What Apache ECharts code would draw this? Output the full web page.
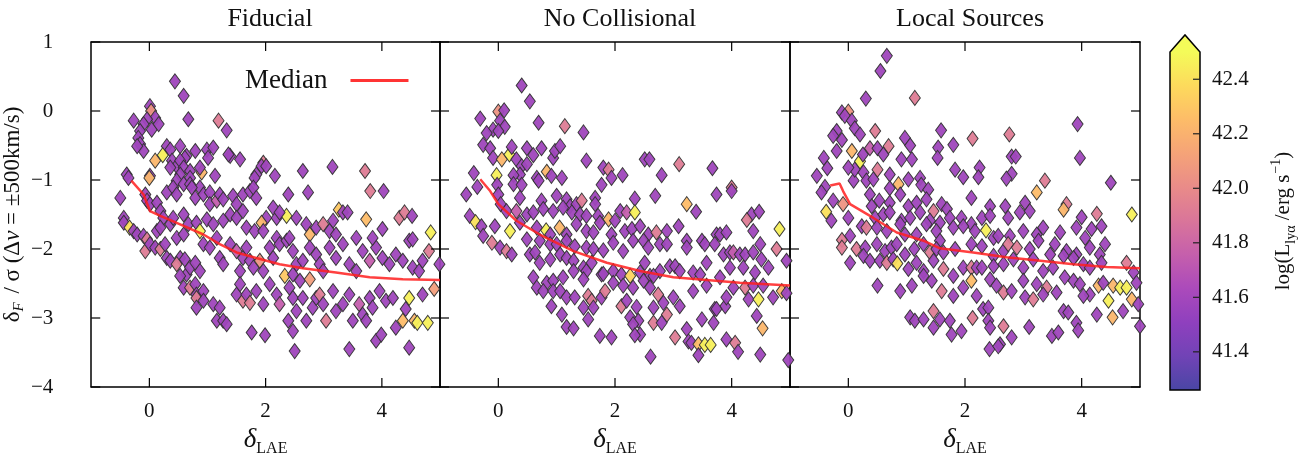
<!DOCTYPE html>
<html>
<head>
<meta charset="utf-8">
<script src="https://cdn.jsdelivr.net/npm/echarts@6/dist/echarts.min.js"></script>
<style>
  html, body { margin: 0; padding: 0; background: #fff; }
  #chart { width: 1303px; height: 462px; }
</style>
</head>
<body>
<div id="chart"></div>
<script>
// [delta_LAE, delta_F/sigma, log L_lya]
const fiducial = [
  [0.44,0.43,41.58],[0.59,0.22,41.58],[0.01,0.07,41.58],[0.03,0.0,42.05],[0.10,-0.10,41.58],[-0.04,-0.12,41.58],
  [-0.10,-0.19,41.58],[0.04,-0.27,41.58],[0.16,-0.19,41.58],[-0.27,-0.14,41.58],[0.67,-0.12,41.58],[1.19,-0.14,41.92],
  [1.33,-0.28,41.58],[-0.16,-0.29,41.58],
  [-0.19,-0.39,41.58],[-0.16,-0.48,41.58],[-0.10,-0.58,41.58],[-0.21,-0.51,41.58],[0.30,-0.51,41.58],[0.36,-0.56,41.58],
  [0.53,-0.51,41.58],[0.64,-0.65,41.58],[0.79,-0.58,41.58],[0.61,-0.68,41.58],[0.99,-0.56,41.58],[1.10,-0.53,41.58],
  [1.01,-0.68,41.58],[0.23,-0.64,42.46],[0.10,-0.72,42.22],[0.39,-0.72,41.58],[0.47,-0.80,41.58],[0.53,-0.72,41.58],
  [0.59,-0.82,41.58],[0.70,-0.87,41.58],[0.36,-0.82,41.58],[0.90,-0.89,42.22],[0.87,-0.82,41.58],[1.13,-0.94,41.58],
  [0.70,-0.97,41.58],[0.53,-0.92,41.58],[0.47,-1.01,41.58],[1.39,-0.65,41.58],[1.36,-0.63,41.58],[1.56,-0.70,41.58],
  [1.96,-0.75,41.92],[1.93,-0.80,41.58],[2.01,-0.80,41.58],[1.84,-0.92,41.58],[1.81,-0.97,41.58],[2.16,-0.94,41.58],
  [2.64,-0.87,41.58],[3.15,-0.81,41.58],[3.71,-0.87,41.92],[0.01,-0.94,41.58],[0.0,-0.97,42.22],[-0.39,-0.92,41.58],
  [-0.36,-0.97,41.58],[3.80,-1.16,41.92],[4.03,-1.16,41.58],[2.73,-1.18,41.58],[2.39,-1.21,41.58],[0.59,-1.06,41.58],
  [0.70,-1.06,41.58],[0.87,-1.11,41.58],
  [-0.50,-1.26,41.58],[-0.07,-1.21,41.58],[-0.04,-1.30,41.58],[0.01,-1.35,41.58],[0.13,-1.33,41.58],[0.30,-1.18,41.58],
  [0.41,-1.11,41.58],[0.47,-1.21,41.58],[0.73,-1.11,41.58],[0.79,-1.26,41.58],[0.93,-1.21,41.58],[1.04,-1.18,41.58],
  [1.04,-1.35,41.58],[1.16,-1.30,41.75],[1.21,-1.21,41.58],[1.27,-1.28,41.58],[1.44,-1.23,41.58],[1.50,-1.35,41.58],
  [1.61,-1.21,41.58],[1.73,-1.16,41.58],[1.79,-1.11,41.58],[1.84,-1.26,41.58],[2.13,-1.40,41.58],[2.19,-1.55,41.58],
  [2.36,-1.52,42.46],[2.24,-1.47,41.58],[2.01,-1.55,41.58],[2.53,-1.55,41.58],[2.70,-1.64,41.58],[2.76,-1.79,42.22],
  [2.87,-1.69,41.58],[2.99,-1.64,41.92],[3.16,-1.59,41.58],[3.26,-1.43,42.3],[3.33,-1.47,41.58],[3.41,-1.47,41.58],
  [3.73,-1.57,42.25],[4.30,-1.55,41.92],[4.39,-1.47,41.92],[4.52,-1.52,41.58],[4.84,-1.76,42.46],[5.03,-1.57,41.58],
  [-0.44,-1.55,41.58],[-0.44,-1.62,41.58],[-0.34,-1.69,42.4],[-0.27,-1.74,41.58],[-0.21,-1.79,41.58],[0.19,-1.45,41.58],
  [0.24,-1.55,41.58],[0.36,-1.64,41.58],[0.41,-1.55,41.58],[0.59,-1.50,41.58],[0.67,-1.64,41.58],[0.81,-1.62,41.58],
  [0.87,-1.74,42.46],[0.99,-1.57,41.58],[1.10,-1.64,41.58],[1.27,-1.59,41.58],[1.39,-1.50,41.58],[1.50,-1.55,41.58],
  [1.61,-1.45,41.58],[1.67,-1.69,41.58],[1.81,-1.74,41.58],[1.93,-1.62,42.22],[1.96,-1.74,41.58],[0.13,-1.74,41.58],
  [0.19,-1.69,41.58],
  [-0.10,-1.81,41.58],[-0.04,-1.86,41.92],[-0.07,-2.03,41.92],[0.01,-1.93,41.58],[0.10,-1.98,41.58],[0.19,-2.0,41.92],
  [0.27,-1.93,41.58],[0.30,-2.13,41.58],[0.47,-1.84,41.58],[0.59,-1.79,41.58],[0.53,-2.13,41.58],[0.36,-2.17,41.58],
  [0.47,-2.22,41.92],[0.61,-2.15,41.58],[0.64,-2.37,41.58],[0.70,-2.27,41.58],[0.79,-2.20,41.58],[0.87,-2.32,41.58],
  [0.93,-1.93,41.58],[1.04,-1.98,41.58],[1.16,-1.84,41.58],[1.21,-2.13,41.58],[1.27,-2.22,41.58],[1.39,-1.93,41.58],
  [1.50,-2.03,41.75],[1.61,-2.13,41.58],[1.56,-2.32,41.58],[1.67,-1.98,41.58],[1.73,-2.17,41.58],[1.79,-2.27,41.58],
  [1.90,-2.17,42.05],[1.96,-2.32,41.58],[2.07,-1.98,41.58],[2.13,-2.13,41.58],[2.19,-1.84,41.58],[2.24,-1.93,41.58],
  [2.36,-1.88,41.58],[2.41,-1.84,41.58],[2.47,-2.03,41.58],[2.53,-2.22,41.58],[2.64,-2.17,41.58],[2.76,-1.98,41.58],
  [2.87,-2.08,41.58],[2.93,-2.22,41.58],[2.99,-2.32,41.58],[2.33,-2.39,42.3],[2.47,-2.37,41.58],[2.59,-2.46,41.58],
  [2.76,-2.44,42.1],[3.10,-1.98,41.58],[3.21,-2.13,41.58],[3.33,-1.93,41.58],[3.44,-2.22,41.58],[3.56,-2.32,41.58],
  [3.67,-2.03,41.58],[3.79,-2.17,41.75],[3.90,-1.98,41.58],[4.01,-2.13,41.58],[4.13,-2.22,41.58],[4.24,-2.08,41.58],
  [4.36,-2.17,41.58],[4.47,-1.88,41.58],[4.53,-2.27,41.58],[4.64,-2.32,41.58],[4.70,-2.17,41.58],[4.81,-2.03,41.92],
  [4.99,-2.22,41.58],[3.10,-1.74,41.58],[3.21,-1.79,41.58],[3.56,-1.84,41.58],[3.84,-1.84,41.58],[4.01,-1.71,41.58],
  [4.53,-1.86,41.58],
  [0.53,-2.39,41.58],[0.59,-2.56,41.58],[0.70,-2.56,41.92],[0.79,-2.51,41.58],[0.81,-2.66,41.58],[0.93,-2.61,41.58],
  [0.81,-2.71,41.92],[1.10,-2.80,41.58],[1.21,-2.85,41.58],[1.16,-3.04,41.58],[1.27,-3.04,41.58],[1.33,-3.09,41.58],
  [1.50,-2.66,41.58],[1.56,-2.51,41.58],[1.61,-2.75,41.92],[1.67,-2.66,41.58],[1.73,-2.78,41.92],[1.84,-2.61,41.58],
  [1.96,-2.80,41.58],[2.07,-2.51,41.58],[2.19,-2.66,41.58],[2.24,-2.80,41.75],[2.41,-2.56,41.58],[2.47,-2.71,41.58],
  [2.53,-2.90,41.58],[2.64,-2.71,41.58],[2.70,-3.04,41.58],[2.81,-2.85,41.58],[2.87,-2.71,41.58],[2.93,-2.66,41.92],
  [2.99,-2.80,41.58],[3.04,-3.04,41.92],[3.16,-2.61,41.58],[3.21,-2.90,41.58],[3.33,-2.80,41.58],[3.44,-2.66,41.58],
  [3.50,-3.04,41.58],[3.61,-2.80,41.75],[3.67,-2.95,41.58],[3.73,-3.04,41.58],[3.79,-2.71,41.58],[3.84,-2.85,41.58],
  [3.96,-2.61,41.58],[4.07,-2.75,41.58],[4.19,-2.71,41.58],[4.24,-3.14,41.58],[4.36,-3.04,42.25],[4.47,-2.71,42.46],
  [4.41,-2.87,41.58],[4.56,-3.04,42.22],[4.61,-3.07,42.46],[4.79,-3.07,42.46],[4.70,-2.66,41.58],[4.90,-2.58,42.1],
  [5.01,-2.61,41.58],[0.81,-2.85,41.58],[0.93,-2.75,41.58],
  [1.76,-3.21,41.58],[1.99,-3.25,41.58],[2.39,-3.04,41.58],[2.47,-3.19,41.58],[2.50,-3.48,41.58],[3.44,-3.45,41.58],
  [3.90,-3.33,41.58],[3.99,-3.24,41.58],[4.47,-3.43,41.58],[5.01,-3.24,41.58]
];

const noCollisional = [
  [0.40,0.37,41.58],[0.54,0.14,41.58],[0.69,-0.17,41.58],[1.14,-0.22,41.92],[1.46,-0.31,41.58],[-0.31,-0.11,41.58],
  [0.0,-0.01,42.05],[0.10,0.01,41.58],[0.03,-0.14,41.58],[-0.09,-0.27,41.58],[0.11,-0.23,41.58],[0.0,-0.29,41.58],
  [-0.20,-0.32,41.58],[-0.26,-0.49,41.58],[-0.14,-0.54,41.58],[-0.09,-0.68,41.58],[0.06,-0.70,42.22],[0.19,-0.63,42.46],
  [0.23,-0.52,41.58],[0.31,-0.70,41.58],[0.49,-0.54,41.58],[0.60,-0.64,41.58],[0.74,-0.54,41.58],[0.94,-0.68,41.58],
  [0.97,-0.58,41.58],[1.06,-0.51,41.58],[0.40,-0.80,41.58],[0.49,-0.77,41.58],[0.37,-0.92,41.58],[0.26,-0.93,41.58],
  [-0.03,-0.93,42.46],[-0.42,-0.90,41.58],[-0.36,-1.10,41.58],[-0.02,-1.07,41.58],[0.26,-1.06,41.58],[0.40,-1.07,41.58],
  [0.66,-0.97,41.58],[0.69,-1.01,41.58],[0.83,-0.88,42.22],[0.91,-0.94,41.58],[1.09,-0.97,41.58],[1.51,-0.72,41.58],
  [1.80,-0.82,41.58],[1.89,-0.85,41.92],[1.94,-0.97,41.58],[2.13,-0.93,41.58],[2.51,-0.70,41.58],[2.59,-0.70,41.58],
  [2.80,-0.93,41.58],[3.10,-0.77,41.92],[3.67,-0.83,41.58],[1.77,-1.07,41.58],[4.00,-1.11,41.92],
  [-0.55,-1.21,41.58],[0.0,-1.21,41.58],[0.04,-1.35,41.58],[0.37,-1.26,41.58],[0.74,-1.30,41.58],[1.00,-1.23,41.58],
  [1.17,-1.28,41.58],[1.23,-1.38,41.58],[1.34,-1.35,41.58],[1.43,-1.30,41.92],[1.66,-1.26,41.58],[1.66,-1.35,41.58],
  [2.34,-1.27,41.58],[2.69,-1.23,41.58],[3.23,-1.35,42.25],[3.39,-1.46,41.58],[3.74,-1.21,41.58],[4.00,-1.16,41.58],
  [2.09,-1.45,41.58],[2.20,-1.47,41.75],[2.34,-1.47,42.46],[0.14,-1.45,41.58],[0.31,-1.45,41.75],[0.49,-1.50,41.58],
  [0.60,-1.47,41.58],[0.77,-1.42,41.58],[0.94,-1.45,41.58],[1.11,-1.40,41.58],[1.26,-1.47,41.58],[1.40,-1.50,41.58],
  [1.51,-1.52,41.58],[1.71,-1.52,41.58],[1.89,-1.57,42.22],[2.00,-1.59,41.58],[4.34,-1.50,41.58],[4.26,-1.58,41.92],
  [4.47,-1.46,41.58],[-0.49,-1.52,41.58],[-0.39,-1.61,42.4],[-0.29,-1.67,41.58],[-0.06,-1.67,41.58],[0.20,-1.74,42.46],
  [0.37,-1.62,41.58],[0.66,-1.69,41.58],[0.82,-1.73,42.46],[0.89,-1.79,41.58],[1.05,-1.69,42.22],[1.17,-1.79,41.58],
  [1.34,-1.64,41.58],[1.51,-1.74,41.58],[1.63,-1.76,41.58],[1.74,-1.62,41.58],[1.94,-1.79,41.58],[2.17,-1.74,41.58],
  [2.29,-1.71,41.58],[2.43,-1.67,41.58],[2.57,-1.79,41.58],[2.71,-1.76,41.92],[2.89,-1.74,41.58],[3.09,-1.67,41.58],
  [3.23,-1.88,41.58],[3.74,-1.79,41.58],[3.80,-1.79,41.58],[3.91,-1.76,41.58],[4.37,-1.74,41.58],[4.82,-1.71,42.46],
  [-0.26,-1.81,41.58],[-0.11,-1.91,41.92],[0.03,-1.98,41.58],[0.14,-2.03,41.92],[0.23,-2.08,41.58],[0.49,-1.86,41.58],
  [0.71,-1.88,41.58],[0.89,-1.93,41.58],[1.00,-1.93,41.58],[1.17,-1.88,41.58],[1.31,-1.96,41.58],[1.51,-1.98,41.58],
  [1.63,-2.00,41.58],[1.80,-2.02,41.58],[1.97,-1.91,41.58],[2.14,-2.03,41.58],[2.31,-1.88,41.58],[2.49,-1.88,41.58],
  [2.57,-1.98,41.58],[2.77,-1.93,41.58],[2.89,-1.93,41.58],[3.23,-1.98,41.58],[3.49,-1.88,41.58],[3.54,-1.93,41.58],
  [3.71,-1.93,41.58],[3.86,-2.08,41.58],[3.97,-2.05,41.58],[4.03,-2.05,41.75],[4.14,-2.08,41.58],[4.23,-2.08,41.58],
  [4.37,-2.05,41.58],[4.49,-1.93,41.58],[4.77,-2.00,41.92],
  [0.54,-2.08,41.58],[0.63,-2.05,41.58],[0.71,-2.20,41.58],[0.89,-2.15,41.58],[1.06,-2.08,41.58],[1.17,-2.13,41.58],
  [1.29,-2.17,41.58],[1.46,-2.27,41.58],[1.51,-2.32,41.58],[1.60,-2.20,41.58],[1.77,-2.37,41.58],[1.97,-2.32,41.58],
  [2.11,-2.37,41.58],[2.26,-2.39,42.35],[2.43,-2.34,41.58],[2.51,-2.20,41.58],[2.60,-2.39,41.58],[2.77,-2.32,41.58],
  [2.94,-2.25,41.58],[3.03,-2.25,41.58],[3.11,-2.32,41.58],[3.34,-2.34,41.58],[3.46,-2.37,41.58],[3.57,-2.20,41.58],
  [3.80,-2.41,41.58],[3.97,-2.27,41.58],[4.20,-2.27,41.58],[4.40,-2.34,41.58],[4.51,-2.15,41.58],[4.63,-2.27,41.58],
  [4.94,-2.17,41.58],[0.60,-2.41,41.58],[0.83,-2.49,41.58],[0.94,-2.46,41.58],[1.11,-2.41,41.58],[1.29,-2.32,41.58],
  [1.46,-2.44,41.58],[1.80,-2.36,41.58],[1.97,-2.49,41.58],[2.14,-2.53,41.58],[2.31,-2.56,41.58],[2.49,-2.46,41.58],
  [2.66,-2.39,41.58],
  [0.66,-2.56,41.58],[0.77,-2.61,41.58],[0.94,-2.61,41.58],[1.06,-2.61,41.58],[1.17,-2.70,41.58],[1.31,-2.70,41.58],
  [1.54,-2.68,41.92],[1.60,-2.75,41.92],[1.77,-2.70,41.58],[1.83,-2.61,41.92],[0.91,-2.83,41.58],[1.09,-2.95,41.58],
  [1.46,-2.85,41.58],[1.63,-2.85,41.58],[2.11,-2.83,41.92],[2.20,-2.75,41.58],[2.37,-2.84,41.58],[2.60,-2.56,41.58],
  [2.66,-2.85,41.58],[2.74,-2.66,41.92],[2.83,-2.78,41.58],[3.00,-2.70,41.58],[3.11,-2.83,41.58],[3.34,-2.61,41.58],
  [3.57,-2.53,41.58],[3.71,-2.87,41.58],[3.89,-2.83,41.58],[3.91,-2.70,41.58],[4.03,-2.56,41.58],[4.23,-2.56,41.92],
  [4.29,-2.73,41.58],[4.46,-2.73,42.46],[4.37,-2.53,41.58],[4.54,-2.53,41.58],[4.71,-2.70,41.58],[4.86,-2.61,42.22],
  [4.94,-2.64,41.58],[2.89,-2.95,41.92],
  [1.54,-3.02,41.58],[1.17,-3.13,41.58],[1.29,-3.15,41.58],[1.74,-3.26,41.58],[1.94,-3.28,41.58],[2.26,-2.99,41.58],
  [2.40,-3.04,41.58],[2.31,-3.09,41.58],[2.43,-3.24,41.58],[2.34,-3.25,41.58],[2.66,-3.07,41.92],[2.80,-3.07,41.58],
  [3.03,-3.28,41.92],[3.23,-3.16,41.58],[3.26,-3.34,41.58],[3.31,-3.36,41.58],[3.43,-3.38,42.25],[3.54,-3.39,42.46],
  [3.64,-3.39,42.46],[3.49,-3.02,41.58],[3.69,-3.07,41.58],[3.74,-2.87,41.58],[3.91,-3.31,41.58],[4.06,-3.36,41.92],
  [4.11,-3.49,41.58],[4.43,-2.97,41.58],[4.53,-3.15,42.22],[4.49,-3.53,41.58],[3.43,-3.54,41.58],[2.61,-3.56,41.58],
  [4.97,-3.61,41.58]
];

const localSources = [
  [0.66,0.80,41.58],[0.55,0.58,41.58],[1.14,0.19,41.92],[0.30,0.18,41.58],[-0.11,-0.02,41.58],[0.0,-0.01,42.05],
  [-0.06,-0.07,41.58],[0.06,-0.14,41.58],[0.11,-0.25,41.58],[0.20,-0.34,41.58],[-0.20,-0.29,41.58],[-0.26,-0.36,41.58],
  [-0.11,-0.42,41.58],[0.46,-0.29,41.92],[1.59,-0.28,41.58],[2.13,-0.40,41.92],[2.76,-0.34,41.92],[3.93,-0.19,41.58],
  [-0.42,-0.68,41.58],[-0.36,-0.83,41.58],[-0.20,-0.58,41.58],[0.06,-0.58,42.22],[0.20,-0.73,42.46],[0.25,-0.63,41.58],
  [0.37,-0.54,41.75],[0.50,-0.54,41.58],[0.60,-0.63,41.58],[0.69,-0.51,41.92],[0.91,-0.70,41.58],[0.97,-0.39,41.58],
  [1.06,-0.50,41.58],[1.09,-0.70,41.58],[1.54,-0.53,41.58],[1.53,-0.68,41.58],[1.80,-0.49,41.58],[1.83,-0.85,41.58],
  [1.97,-0.96,41.58],[2.25,-0.82,41.58],[2.23,-0.96,41.58],[2.80,-0.66,41.58],[2.87,-0.66,41.58],[2.80,-0.91,41.58],
  [2.71,-0.98,41.58],[3.97,-0.68,41.58],[-0.54,-0.94,41.58],[-0.40,-1.10,41.58],[0.09,-1.01,41.58],[0.11,-0.85,41.58],
  [0.0,-0.82,41.58],[0.26,-0.89,41.58],[0.31,-1.01,41.58],[0.43,-0.99,41.58],[0.50,-0.85,41.92],[0.71,-0.92,41.58],
  [0.86,-1.06,42.22],[1.03,-0.99,41.58],[1.23,-0.97,41.58],[1.25,-1.07,41.58],[3.37,-1.01,41.92],[4.50,-1.04,41.58],
  [0.71,-1.12,41.58],[1.37,-1.14,41.58],
  [-0.46,-1.18,41.58],[-0.26,-1.30,41.58],[-0.09,-1.35,42.05],[0.37,-1.21,41.58],[0.40,-1.38,41.58],[0.53,-1.30,41.58],
  [0.71,-1.33,41.58],[0.89,-1.21,41.58],[1.03,-1.38,41.58],[1.17,-1.33,41.58],[1.34,-1.28,41.58],[1.46,-1.45,41.92],
  [1.60,-1.35,41.58],[1.69,-1.42,41.58],[2.11,-1.26,41.58],[2.43,-1.38,41.58],[2.69,-1.38,41.58],[3.03,-1.33,41.58],
  [3.23,-1.18,42.25],[3.74,-1.35,41.92],[3.69,-1.43,42.22],[4.00,-1.54,41.58],[4.26,-1.49,41.92],[4.86,-1.50,42.46],
  [-0.38,-1.46,42.4],[-0.29,-1.59,41.58],[0.0,-1.55,41.58],[0.46,-1.55,41.58],[0.60,-1.50,41.58],[0.71,-1.47,41.58],
  [0.91,-1.59,41.58],[1.06,-1.55,41.58],[1.23,-1.47,41.58],[1.40,-1.59,41.58],[1.57,-1.62,41.58],[1.74,-1.55,41.58],
  [1.94,-1.55,41.58],[2.11,-1.64,41.58],[2.29,-1.55,41.58],[2.43,-1.52,41.58],[2.74,-1.55,41.58],[2.94,-1.47,41.58],
  [3.11,-1.45,41.58],
  [0.03,-1.81,41.58],[-0.11,-1.87,41.92],[0.23,-1.67,41.58],[0.31,-1.69,41.92],[0.49,-1.69,41.58],[0.66,-1.74,41.58],
  [0.89,-1.64,41.58],[0.97,-1.79,41.58],[1.17,-1.79,41.58],[1.34,-1.64,41.58],[1.51,-1.74,41.58],[1.57,-1.88,41.58],
  [1.80,-1.69,41.58],[1.97,-1.67,41.58],[2.17,-1.74,41.58],[2.36,-1.73,42.46],[2.49,-1.84,41.58],[2.57,-1.81,41.58],
  [2.77,-1.81,41.58],[3.00,-1.74,41.58],[3.23,-1.79,41.58],[3.34,-1.69,41.58],[3.63,-1.76,41.58],[3.91,-1.69,41.58],
  [4.06,-1.84,41.58],[4.17,-1.71,41.58],[4.34,-1.67,41.58],[-0.11,-1.98,41.92],[0.14,-2.00,41.92],[0.29,-1.98,41.58],
  [0.26,-2.10,41.58],[0.49,-1.93,41.58],[0.63,-2.03,41.58],[0.74,-1.98,41.58],[0.83,-1.93,41.58],[0.97,-2.08,41.58],
  [1.13,-2.00,41.58],[1.29,-1.93,41.58],[1.40,-2.05,41.92],[1.51,-2.00,41.58],[1.63,-2.05,41.58],[1.83,-2.00,41.58],
  [2.11,-1.93,41.58],[2.29,-1.96,41.58],[2.49,-2.10,41.58],[2.66,-2.03,41.58],[2.74,-1.93,41.92],[2.89,-1.98,41.92],
  [3.11,-2.00,41.58],[3.26,-1.88,41.58],[3.46,-2.08,41.58],[3.54,-1.93,41.58],[3.74,-2.03,41.58],[3.91,-2.08,41.58],
  [4.14,-1.98,41.58],[4.31,-2.08,41.58],[4.40,-1.93,41.58],[0.03,-2.20,41.58],
  [0.37,-2.17,41.58],[0.54,-2.17,41.58],[0.66,-2.20,41.92],[0.77,-2.15,41.58],[0.84,-2.21,42.4],[1.03,-2.29,41.58],
  [1.17,-2.20,41.58],[1.29,-2.32,41.58],[1.46,-2.17,41.58],[1.63,-2.29,41.92],[1.80,-2.39,41.58],[1.97,-2.27,41.58],
  [2.11,-2.27,41.92],[2.20,-2.27,41.58],[2.29,-2.27,41.58],[2.49,-2.25,41.58],[2.66,-2.22,41.58],[2.83,-2.15,41.58],
  [3.00,-2.27,41.58],[3.17,-2.15,41.58],[3.34,-2.32,41.58],[3.51,-2.27,41.58],[3.69,-2.10,41.58],[3.86,-2.13,41.58],
  [4.03,-2.22,41.58],[4.14,-2.27,41.58],[4.34,-2.20,41.58],[4.77,-2.20,41.92],[4.89,-2.34,41.58],[0.50,-2.53,41.58],
  [0.89,-2.61,41.58],[1.09,-2.53,41.58],[1.29,-2.39,41.58],[1.43,-2.46,41.58],[1.60,-2.61,41.92],[1.80,-2.68,41.58],
  [1.97,-2.56,41.58],[2.11,-2.46,42.25],[2.20,-2.68,41.58],[2.43,-2.44,41.58],[2.54,-2.53,41.58],[2.66,-2.63,41.92],
  [2.80,-2.61,41.58],[3.00,-2.46,41.58],[3.23,-2.51,41.58],[3.40,-2.56,41.92],[3.57,-2.63,41.58],[3.71,-2.41,41.58],
  [3.86,-2.46,41.58],[3.97,-2.51,41.58],[4.14,-2.66,41.58],[4.29,-2.53,42.22],[4.37,-2.49,41.58],[4.54,-2.53,42.22],
  [4.66,-2.56,42.46],[4.77,-2.56,42.46],[4.94,-2.49,41.58],
  [3.03,-2.70,41.58],[3.17,-2.73,41.92],[3.34,-2.66,41.58],[4.46,-2.75,42.46],[4.71,-2.90,41.58],[4.86,-2.73,42.22],
  [4.97,-2.80,41.58],[4.03,-2.68,41.58],[1.06,-2.99,41.58],[1.14,-3.04,41.58],[1.29,-3.02,41.58],[1.46,-2.90,41.92],
  [1.46,-3.14,41.58],[1.57,-3.02,41.58],[1.74,-3.04,41.58],[1.77,-3.24,41.58],[1.94,-3.19,41.58],[2.13,-3.00,41.92],
  [2.31,-2.87,41.58],[2.40,-2.85,41.58],[2.40,-3.04,41.58],[2.43,-3.14,41.58],[2.66,-3.12,41.92],[2.80,-3.28,41.58],
  [3.10,-3.13,41.58],[3.49,-3.26,41.58],[3.60,-3.21,41.58],[3.69,-2.90,41.58],[3.77,-2.92,41.58],[3.91,-3.07,41.58],
  [3.94,-3.18,41.58],[4.26,-2.95,41.58],[4.53,-2.99,42.22],[5.00,-3.12,41.58],[2.42,-3.45,41.58],[2.60,-3.38,41.58],
  [2.57,-3.41,41.58]
];

// running medians
const fidMedianX = [-0.31,-0.10,0.01,0.19,0.47,0.93,1.21,1.50,1.84,2.24,2.64,3.21,3.79,4.36,5.00];
const fidMedianY = [-1.01,-1.21,-1.45,-1.52,-1.62,-1.79,-1.93,-2.05,-2.13,-2.22,-2.28,-2.34,-2.41,-2.44,-2.45];
const ncMedianX = [-0.31,-0.14,0.00,0.31,0.71,1.29,1.86,2.43,3.00,3.57,4.14,5.00];
const ncMedianY = [-0.99,-1.16,-1.35,-1.59,-1.79,-2.03,-2.20,-2.32,-2.41,-2.45,-2.49,-2.53];
const lsMedianX = [-0.31,-0.15,-0.09,0.03,0.43,0.83,1.29,1.57,2.14,2.71,3.29,3.86,4.43,5.00];
const lsMedianY = [-1.08,-1.05,-1.16,-1.35,-1.55,-1.76,-1.88,-1.99,-2.05,-2.12,-2.17,-2.22,-2.26,-2.28];

const panelTitles = ['Fiducial', 'No Collisional', 'Local Sources'];
const xTicks = [0, 2, 4];
const yTicks = [-4, -3, -2, -1, 0, 1];
const cbTicks = [41.4, 41.6, 41.8, 42.0, 42.2, 42.4];
const lumMin = 41.26, lumMax = 42.5;
// plasma, lightened
const plasma = ['#4a46a5','#7143b6','#8f40be','#ab4abb','#c55fac','#d9759a','#e98b89','#f5a378','#fdbc68','#fdda5c','#f4fb59'];

const FONT = 'Liberation Serif';
const TXT = '#111';
const panelLeft = [90, 440, 790];
const TOP = 42, W = 350, H = 345;
const TICK = 9;

const chart = echarts.init(document.getElementById('chart'));

const axisLine = () => ({ show: true, onZero: false, lineStyle: { color: '#000', width: 1.5 } });
const noSplit = () => ({ show: false });

const grids = [], xAxes = [], yAxes = [], titles = [];
panelLeft.forEach((left, i) => {
  grids.push({ left: left, top: TOP, width: W, height: H, show: false });
  titles.push({
    text: panelTitles[i], left: left + W / 2, top: 1, textAlign: 'center',
    textStyle: { fontFamily: FONT, fontSize: 26, fontWeight: 'normal', color: TXT }
  });
  xAxes.push({
    type: 'value', gridIndex: i, min: -1, max: 5, position: 'bottom',
    axisLine: axisLine(), splitLine: noSplit(), axisTick: { show: false },
    axisLabel: { customValues: xTicks.slice(), margin: 14, fontFamily: FONT, fontSize: 21, color: TXT },
    name: '{d|δ}{s|LAE}', nameLocation: 'middle', nameGap: 36,
    nameTextStyle: {
      fontFamily: FONT,
      rich: {
        d: { fontFamily: FONT, fontSize: 27, fontStyle: 'italic', color: TXT, lineHeight: 30, verticalAlign: 'bottom' },
        s: { fontFamily: FONT, fontSize: 16, color: TXT, lineHeight: 30, verticalAlign: 'bottom', padding: [0, 0, -3, 0] }
      }
    }
  });
  xAxes.push({
    type: 'value', gridIndex: i, min: -1, max: 5, position: 'top',
    axisLine: axisLine(), splitLine: noSplit(), axisTick: { show: false }, axisLabel: { show: false }
  });
  yAxes.push({
    type: 'value', gridIndex: i, min: -4, max: 1, interval: 1, position: 'left',
    axisLine: axisLine(), splitLine: noSplit(), axisTick: { show: false },
    axisLabel: {
      show: i === 0, margin: 38, fontFamily: FONT, fontSize: 21, color: TXT,
      formatter: v => String(v).replace('-', '\u2212')
    },
    name: i === 0 ? '{a|δ}{f|F}{a| / σ (Δ}{v|ν}{a| = ±500km/s)}' : '',
    nameLocation: 'middle', nameGap: 56, nameRotate: 90,
    nameTextStyle: {
      fontFamily: FONT,
      rich: {
        a: { fontFamily: FONT, fontSize: 23, color: TXT, lineHeight: 28, verticalAlign: 'bottom' },
        v: { fontFamily: FONT, fontSize: 23, fontStyle: 'italic', color: TXT, lineHeight: 28, verticalAlign: 'bottom' },
        f: { fontFamily: FONT, fontSize: 15, fontStyle: 'italic', color: TXT, lineHeight: 28, verticalAlign: 'bottom', padding: [0, 3, -3, 0] }
      }
    }
  });
  yAxes.push({
    type: 'value', gridIndex: i, min: -4, max: 1, interval: 1, position: 'right',
    axisLine: axisLine(), splitLine: noSplit(), axisTick: { show: false }, axisLabel: { show: false }
  });
});

// colour bar
grids.push({ left: 1170, top: 52, width: 30, height: 338, show: false });
xAxes.push({ type: 'value', gridIndex: 3, min: 0, max: 1, show: false });
yAxes.push({
  type: 'value', gridIndex: 3, min: lumMin, max: lumMax, position: 'right',
  axisLine: { show: false, onZero: false }, splitLine: noSplit(), axisTick: { show: false },
  axisLabel: { customValues: cbTicks.slice(), margin: 12, fontFamily: FONT, fontSize: 21, color: TXT, formatter: v => v.toFixed(1) },
  name: '{a|log(L}{s|lyα}{a| /erg s}{p|−1}{a|)}', nameLocation: 'middle', nameGap: 70, nameRotate: 90,
  nameTextStyle: {
    fontFamily: FONT,
    rich: {
      a: { fontFamily: FONT, fontSize: 21, color: TXT, lineHeight: 26, verticalAlign: 'middle' },
      s: { fontFamily: FONT, fontSize: 14, color: TXT, lineHeight: 26, verticalAlign: 'bottom', padding: [0, 0, -2, 0] },
      p: { fontFamily: FONT, fontSize: 14, color: TXT, lineHeight: 26, verticalAlign: 'top', padding: [-1, 0, 0, 1] }
    }
  }
});

const panels = [fiducial, noCollisional, localSources];
const medians = [[fidMedianX, fidMedianY], [ncMedianX, ncMedianY], [lsMedianX, lsMedianY]];
const series = [];
panels.forEach((pts, i) => {
  series.push({
    type: 'scatter', xAxisIndex: 2 * i, yAxisIndex: 2 * i, data: pts,
    symbol: 'diamond', symbolSize: [11, 15],
    itemStyle: { borderColor: '#333', borderWidth: 1, opacity: 0.95 },
    z: 2
  });
});
medians.forEach((m, i) => {
  series.push({
    type: 'line', name: 'Median', xAxisIndex: 2 * i, yAxisIndex: 2 * i,
    data: m[0].map((x, k) => [x, m[1][k]]),
    showSymbol: false, symbol: 'none',
    lineStyle: { color: 'rgba(255,30,30,0.85)', width: 2.5 },
    itemStyle: { color: 'rgba(255,30,30,0.9)' },
    z: 5
  });
});

// inward tick marks on all four sides of each panel, placed through the axis scales
const tickStyle = { stroke: '#000', lineWidth: 1.2 };
panels.forEach((pts, i) => {
  series.push({
    type: 'custom', xAxisIndex: 2 * i, yAxisIndex: 2 * i, data: [[0, 0]], silent: true, z: 6,
    renderItem: (params, api) => {
      const children = [];
      xTicks.forEach(v => {
        const b = api.coord([v, -4]), t = api.coord([v, 1]);
        children.push({ type: 'line', shape: { x1: b[0], y1: b[1], x2: b[0], y2: b[1] - TICK }, style: tickStyle });
        children.push({ type: 'line', shape: { x1: t[0], y1: t[1], x2: t[0], y2: t[1] + TICK }, style: tickStyle });
      });
      yTicks.forEach(v => {
        const l = api.coord([-1, v]), r = api.coord([5, v]);
        children.push({ type: 'line', shape: { x1: l[0], y1: l[1], x2: l[0] + TICK, y2: l[1] }, style: tickStyle });
        children.push({ type: 'line', shape: { x1: r[0], y1: r[1], x2: r[0] - TICK, y2: r[1] }, style: tickStyle });
      });
      return { type: 'group', children: children };
    }
  });
});

series.push({
  type: 'custom', xAxisIndex: 6, yAxisIndex: 6, data: [[0, 1]], silent: true, z: 1,
  renderItem: (params, api) => {
    const p0 = api.coord([0, lumMin]);
    const p1 = api.coord([1, lumMax]);
    const tip = 17;
    const children = [{
      type: 'polygon',
      shape: { points: [[p0[0], p0[1]], [p0[0], p1[1]], [(p0[0] + p1[0]) / 2, p1[1] - tip], [p1[0], p1[1]], [p1[0], p0[1]]] },
      style: {
        fill: new echarts.graphic.LinearGradient(0, p0[1], 0, p1[1],
          plasma.map((c, k) => ({ offset: k / (plasma.length - 1), color: c })), true),
        stroke: '#000', lineWidth: 1.5
      }
    }];
    cbTicks.forEach(v => {
      const r = api.coord([1, v]);
      children.push({ type: 'line', shape: { x1: r[0], y1: r[1], x2: r[0] - 7, y2: r[1] }, style: { stroke: '#222', lineWidth: 1.2 } });
    });
    return { type: 'group', children: children };
  }
});

chart.setOption({
  animation: false,
  backgroundColor: '#fff',
  title: titles,
  grid: grids,
  xAxis: xAxes,
  yAxis: yAxes,
  visualMap: {
    type: 'continuous', show: false, min: lumMin, max: lumMax, dimension: 2,
    seriesIndex: [0, 1, 2], inRange: { color: plasma }
  },
  legend: {
    data: ['Median'], left: 240, top: 62, align: 'right', icon: 'rect',
    itemWidth: 58, itemHeight: 3,
    textStyle: { fontFamily: FONT, fontSize: 27, color: TXT, padding: [0, 18, 0, 0] }
  },
  series: series
});
</script>
</body>
</html>
